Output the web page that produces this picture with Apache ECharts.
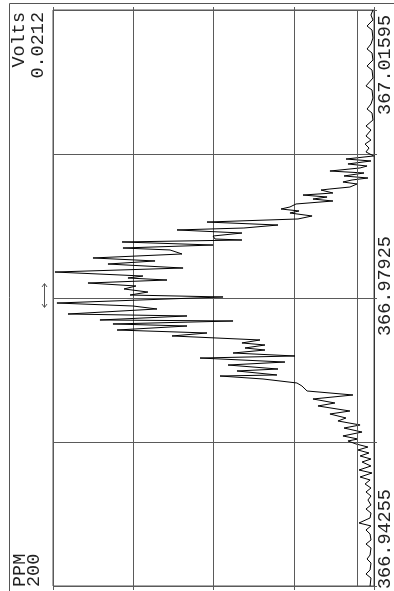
<!DOCTYPE html>
<html>
<head>
<meta charset="utf-8">
<script src="https://cdn.jsdelivr.net/npm/echarts@6/dist/echarts.min.js"></script>
<style>
html,body{margin:0;padding:0;background:#fff;}
#c{width:394px;height:591px;}
</style>
</head>
<body>
<div id="c"></div>
<script>
// PPM (vertical) and Volts (horizontal) for each sample
const ppm = [
367.01595,367.01531,367.01468,367.01391,367.01340,367.01238,367.01162,367.01098,367.01047,367.00958,
367.00881,367.00830,367.00728,367.00627,367.00576,367.00474,367.00397,367.00333,367.00282,367.00193,
367.00117,367.00066,366.99989,366.99938,366.99887,366.99836,366.99786,366.99735,366.99696,366.99671,
366.99633,366.99607,366.99582,366.99543,366.99518,366.99480,366.99454,366.99429,366.99403,366.99378,
366.99339,366.99314,366.99301,366.99263,366.99237,366.99212,366.99186,366.99161,366.99123,366.99085,
366.99059,366.99034,366.99008,366.98970,366.98932,366.98893,366.98855,366.98817,366.98792,366.98753,
366.98715,366.98677,366.98664,366.98639,366.98600,366.98562,366.98537,366.98486,366.98435,366.98397,
366.98358,366.98307,366.98256,366.98205,366.98180,366.98154,366.98116,366.98078,366.98040,366.98001,
366.97963,366.97938,366.97861,366.97823,366.97785,366.97721,366.97696,366.97645,366.97632,366.97594,
366.97568,366.97517,366.97479,366.97441,366.97390,366.97352,366.97326,366.97288,366.97262,366.97224,
366.97186,366.97160,366.97109,366.97071,366.97020,366.96995,366.96944,366.96931,366.96893,366.96842,
366.96804,366.96740,366.96689,366.96638,366.96587,366.96549,366.96485,366.96447,366.96396,366.96358,
366.96307,366.96268,366.96217,366.96167,366.96128,366.96103,366.96065,366.96026,366.95988,366.95950,
366.95912,366.95873,366.95835,366.95784,366.95733,366.95695,366.95644,366.95606,366.95555,366.95504,
366.95453,366.95402,366.95351,366.95287,366.95236,366.95185,366.95122,366.95058,366.95020,366.94969,
366.94918,366.94841,366.94790,366.94739,366.94650,366.94599,366.94548,366.94459,366.94408,366.94357,
366.94255
];
const volts = [
0.00007,0.00020,0.00007,0.00046,0.00013,0.00007,0.00020,0.00046,0.00013,0.00007,
0.00046,0.00013,0.00007,0.00053,0.00013,0.00007,0.00020,0.00046,0.00013,0.00007,
0.00053,0.00020,0.00053,0.00020,0.00059,0.00033,0.00053,0.00002,0.00185,0.00020,
0.00172,0.00046,0.00092,0.00291,0.00066,0.00198,0.00040,0.00145,0.00205,0.00112,
0.00159,0.00291,0.00350,0.00271,0.00469,0.00310,0.00403,0.00271,0.00515,0.00555,
0.00614,0.00495,0.00555,0.00409,0.00502,0.01103,0.00634,0.00859,0.01301,0.00872,
0.01063,0.01050,0.00872,0.01664,0.01063,0.01658,0.01347,0.01268,0.01856,0.01446,
0.01757,0.01261,0.02107,0.01526,0.01625,0.01367,0.01889,0.01572,0.01651,0.01493,
0.01611,0.00997,0.02094,0.01592,0.01433,0.02021,0.01235,0.01810,0.00931,0.01724,
0.01235,0.01697,0.01103,0.01334,0.00753,0.00872,0.00720,0.00852,0.00720,0.00931,
0.00522,0.01149,0.00588,0.00964,0.00634,0.00905,0.00641,0.01017,0.00733,0.00509,
0.00476,0.00442,0.00139,0.00403,0.00258,0.00370,0.00159,0.00291,0.00185,0.00238,
0.00092,0.00198,0.00079,0.00205,0.00106,0.00172,0.00119,0.00040,0.00106,0.00033,
0.00092,0.00020,0.00079,0.00020,0.00099,0.00013,0.00092,0.00026,0.00059,0.00020,
0.00053,0.00020,0.00040,0.00020,0.00053,0.00020,0.00026,0.00099,0.00020,0.00053,
0.00026,0.00020,0.00053,0.00020,0.00026,0.00046,0.00020,0.00026,0.00053,0.00020,
0.00026
];
// axis ranges and tick labels
const ppmMin = 366.94255, ppmMax = 367.01595, ppmStep = 0.01835;
const voltMin = 0, voltMax = 0.0212, voltStep = 0.0053;
const ppmTickLabels = ['366.94255', '366.97925', '367.01595'];
const voltTitle = ['Volts', '0.0212'];
const ppmTitle = ['PPM', '200'];
const extraVoltLine = 0.00112;

const font = '18.5px "Liberation Mono", "DejaVu Sans Mono", monospace';
const txtColor = '#222';
const gridColor = '#5a5a5a';

const chart = echarts.init(document.getElementById('c'), null, {renderer: 'canvas'});

function rt(text, x, y, align) {
  return {type: 'text', x: x, y: y, rotation: Math.PI / 2, silent: true,
    style: {text: text, font: font, fill: txtColor, align: align, verticalAlign: 'middle'}};
}

const graphics = [
  {type: 'rect', shape: {x: 9.5, y: 3.5, width: 420, height: 620}, style: {fill: 'none', stroke: '#555', lineWidth: 1}, silent: true},
  rt(voltTitle[0], 19, 12, 'right'),
  rt(voltTitle[1], 38, 12, 'right'),
  rt(ppmTitle[0], 20, 587, 'left'),
  rt(ppmTitle[1], 34, 587, 'left'),
  rt(ppmTickLabels[2], 385, 15, 'right'),
  rt(ppmTickLabels[1], 385, 336, 'left'),
  rt(ppmTickLabels[0], 385, 589, 'left'),
  // double arrow marker
  {type: 'group', silent: true, children: [
    {type: 'line', shape: {x1: 44.5, y1: 284, x2: 44.5, y2: 307}, style: {stroke: '#555', lineWidth: 1}},
    {type: 'polyline', shape: {points: [[42, 287], [44.5, 283.5], [47, 287]]}, style: {stroke: '#555', fill: 'none', lineWidth: 1}},
    {type: 'polyline', shape: {points: [[42, 304], [44.5, 307.5], [47, 304]]}, style: {stroke: '#555', fill: 'none', lineWidth: 1}}
  ]}
];

const xAxisBase = {
  type: 'value', min: voltMin, max: voltMax, interval: voltStep, inverse: true,
  axisLine: {show: false}, axisLabel: {show: false}
};
const yAxisBase = {
  type: 'value', min: ppmMin, max: ppmMax, interval: ppmStep,
  axisLabel: {show: false}
};

chart.setOption({
  animation: false,
  backgroundColor: '#fff',
  grid: {left: 53, right: 20, top: 10, bottom: 5, show: true, borderColor: '#555', borderWidth: 1, containLabel: false, outerBoundsMode: 'none'},
  xAxis: [
    Object.assign({}, xAxisBase, {position: 'bottom',
      axisTick: {show: true, inside: false, length: 4, lineStyle: {color: gridColor}},
      splitLine: {show: true, lineStyle: {color: gridColor, width: 1}}}),
    Object.assign({}, xAxisBase, {position: 'top',
      axisTick: {show: true, inside: false, length: 3, lineStyle: {color: gridColor}},
      splitLine: {show: false}})
  ],
  yAxis: [
    Object.assign({}, yAxisBase, {position: 'left',
      axisLine: {show: true, lineStyle: {color: '#000', width: 1}},
      axisTick: {show: true, inside: false, length: 3, lineStyle: {color: gridColor}},
      splitLine: {show: true, lineStyle: {color: gridColor, width: 1}}}),
    Object.assign({}, yAxisBase, {position: 'right',
      axisLine: {show: true, lineStyle: {color: '#333', width: 1}},
      axisTick: {show: true, inside: false, length: 3, lineStyle: {color: gridColor}},
      splitLine: {show: false}})
  ],
  graphic: graphics,
  series: [{
    type: 'line',
    xAxisIndex: 0, yAxisIndex: 0,
    data: volts.map((v, i) => [v, ppm[i]]),
    showSymbol: false, symbol: 'none', smooth: false,
    lineStyle: {color: '#000', width: 1},
    silent: true,
    markLine: {
      silent: true, symbol: ['none', 'none'], label: {show: false},
      animation: false,
      lineStyle: {color: gridColor, type: 'solid', width: 1},
      data: [[{coord: [extraVoltLine, ppmMin]}, {coord: [extraVoltLine, ppmMax]}]]
    }
  }]
});
</script>
</body>
</html>
